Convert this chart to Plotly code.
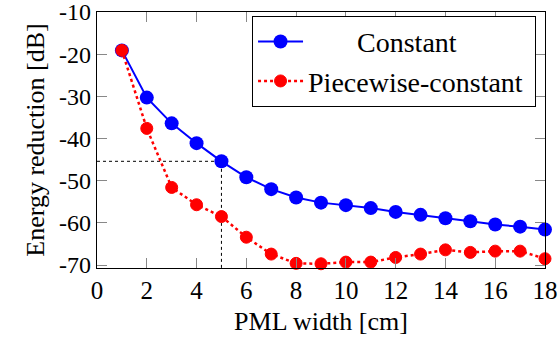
import plotly.graph_objects as go

pml_width = list(range(1, 19))
constant = [-19.1, -30.3, -36.4, -41.1, -45.4, -49.2, -52.0, -54.0, -55.2,
            -55.8, -56.5, -57.4, -58.1, -58.9, -59.6, -60.4, -60.9, -61.6]
piecewise = [-19.1, -37.6, -51.6, -55.7, -58.5, -63.4, -67.4, -69.6, -69.7,
             -69.3, -69.3, -68.2, -67.4, -66.4, -67.0, -66.7, -66.7, -68.5]
x_ticks = list(range(0, 19, 2))
y_ticks = [-10, -20, -30, -40, -50, -60, -70]
ref_width = 5
y_min, y_max = -70.7, -10

FONT = "Liberation Serif"
ref_val = constant[pml_width.index(ref_width)]

fig = go.Figure()
fig.add_trace(go.Scatter(
    x=[0, ref_width, ref_width], y=[ref_val, ref_val, y_min],
    mode="lines", line=dict(color="black", width=1, dash="dot"),
    showlegend=False, hoverinfo="skip"))
fig.add_trace(go.Scatter(
    x=pml_width, y=constant, mode="lines+markers",
    name="\u00a0\u00a0\u00a0\u00a0\u00a0\u00a0\u00a0Constant",
    line=dict(color="#0000ff", width=2),
    marker=dict(symbol="circle", size=14, color="#0000ff"),
    cliponaxis=False))
fig.add_trace(go.Scatter(
    x=pml_width, y=piecewise, mode="lines+markers",
    name="Piecewise-constant\u00a0",
    line=dict(color="#ff0000", width=2.5, dash="dot"),
    marker=dict(symbol="circle", size=12, color="#ff0000",
                line=dict(color="#ff0000", width=1)),
    cliponaxis=False))

fig.update_layout(
    width=560, height=347,
    margin=dict(l=97, r=15, t=12, b=79),
    paper_bgcolor="white", plot_bgcolor="white",
    font=dict(family=FONT, size=25, color="black"),
    legend=dict(x=0.98, y=0.985, xanchor="right", yanchor="top",
                bordercolor="black", borderwidth=1, bgcolor="white",
                font=dict(family=FONT, size=28), tracegroupgap=0,
                itemwidth=45),
)
fig.update_xaxes(
    range=[0, 18], tickvals=x_ticks, ticktext=[str(v) for v in x_ticks],
    showgrid=False, zeroline=False, showline=True, linecolor="black",
    linewidth=1.3, mirror="ticks", ticks="inside", ticklen=10,
    tickcolor="#888888", tickwidth=1, ticklabeloverflow="allow",
    automargin="bottom",
    title=dict(text="PML width [cm]", font=dict(family=FONT, size=26),
               standoff=8),
    tickfont=dict(family=FONT, size=25))
fig.update_yaxes(
    range=[y_min, y_max], tickvals=y_ticks, ticktext=[str(v) for v in y_ticks],
    showgrid=False, zeroline=False, showline=True, linecolor="black",
    linewidth=1.3, mirror="ticks", ticks="inside", ticklen=10,
    tickcolor="#888888", tickwidth=1, ticklabeloverflow="allow",
    automargin="left",
    title=dict(text="Energy reduction [dB]", font=dict(family=FONT, size=26),
               standoff=6),
    tickfont=dict(family=FONT, size=24))

fig.write_html("out.html")
